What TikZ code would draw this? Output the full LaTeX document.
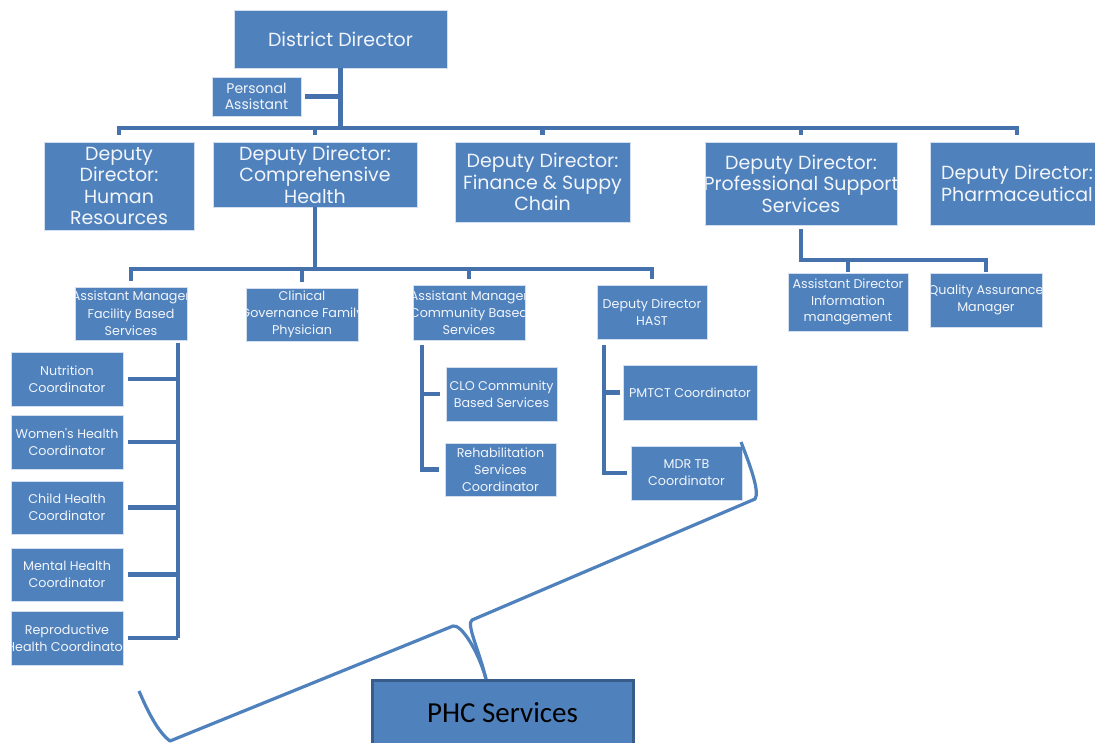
\documentclass[tikz,border=0pt]{standalone}
\usepackage{fontspec}
\newfontfamily\gothic{Poppins}
\newfontfamily\calib{Carlito}
\usetikzlibrary{calc}
\definecolor{boxblue}{HTML}{4F81BD}
\definecolor{linkblue}{HTML}{4572AC}
\definecolor{edgeblue}{HTML}{385D8A}
\definecolor{txt}{HTML}{F2F5FA}
\newcommand{\fbig}{\gothic\fontsize{19}{22}\selectfont}
\newcommand{\fmid}{\gothic\fontsize{19}{21.5}\selectfont}
\newcommand{\fsmall}{\gothic\fontsize{12.7}{16.8}\selectfont}
\newcommand{\fpa}{\gothic\fontsize{14}{16}\selectfont}
\tikzset{
  box/.style={fill=boxblue, draw=white!75!boxblue, line width=0.6pt, inner sep=0pt},
  tbig/.style={path picture={\node[font=\fbig, text=txt, align=center, inner sep=0pt] at (path picture bounding box.center) {#1};}},
  tmid/.style={path picture={\node[font=\fmid, text=txt, align=center, inner sep=0pt] at (path picture bounding box.center) {#1};}},
  tsmall/.style={path picture={\node[font=\fsmall, text=txt, align=center, inner sep=0pt] at (path picture bounding box.center) {#1};}},
  tpa/.style={path picture={\node[font=\fpa, text=txt, align=center, inner sep=0pt] at (path picture bounding box.center) {#1};}},
  conn/.style={draw=linkblue, line width=4.3pt},
  bracel/.style={draw=boxblue, line width=3.2pt, line join=round},
  phcbox/.style={fill=boxblue, draw=edgeblue, line width=3pt, text=black, font=\calib\fontsize{29}{32}\selectfont, inner sep=0pt}
}
\begin{document}
\begin{tikzpicture}[x=1pt,y=-1pt]
\useasboundingbox (0,0) rectangle (1095,742);
% level 1
\node[box, minimum width=213pt, minimum height=58pt, tbig={District Director}] (dd) at (340.5,39) {};
\node[box, minimum width=89pt, minimum height=39pt, tpa={Personal\\Assistant}] (pa) at (256.5,96.5) {};
% level 2
\node[box, minimum width=150pt, minimum height=88pt, tmid={Deputy\\Director:\\Human\\Resources}] (hr) at (119,186) {};
\node[box, minimum width=204pt, minimum height=65pt, tmid={Deputy Director:\\Comprehensive\\Health}] (ch) at (315,174.5) {};
\node[box, minimum width=175pt, minimum height=80pt, tmid={Deputy Director:\\Finance \& Suppy\\Chain}] (fi) at (542.5,182) {};
\node[box, minimum width=192pt, minimum height=83pt, tmid={Deputy Director:\\Professional Support\\Services}] (ps) at (801,183.5) {};
\node[box, minimum width=174pt, minimum height=83pt, tmid={Deputy Director:\\Pharmaceutical}] (ph) at (1017,183.5) {};
% level 3
\node[box, minimum width=112pt, minimum height=53pt, tsmall={Assistant Manager\\[1pt]Facility Based\\Services}] (fb) at (131,313.5) {};
\node[box, minimum width=112pt, minimum height=53pt, tsmall={Clinical\\Governance Family\\Physician}] (cg) at (302,314.5) {};
\node[box, minimum width=112pt, minimum height=55pt, tsmall={Assistant Manager\\Community Based\\Services}] (cb) at (469,312.5) {};
\node[box, minimum width=110pt, minimum height=54pt, tsmall={Deputy Director\\HAST}] (ha) at (652,312) {};
\node[box, minimum width=120pt, minimum height=58pt, tsmall={Assistant Director\\Information\\management}] (ai) at (848,302) {};
\node[box, minimum width=112pt, minimum height=54pt, tsmall={Quality Assurance\\Manager}] (qa) at (986,300) {};
% coordinators
\node[box, minimum width=112pt, minimum height=54pt, tsmall={Nutrition\\Coordinator}] (nut) at (67,379) {};
\node[box, minimum width=112pt, minimum height=54pt, tsmall={Women's Health\\Coordinator}] (wom) at (67,442) {};
\node[box, minimum width=112pt, minimum height=53pt, tsmall={Child Health\\Coordinator}] (chi) at (67,507.5) {};
\node[box, minimum width=112pt, minimum height=53pt, tsmall={Mental Health\\Coordinator}] (men) at (67,574.5) {};
\node[box, minimum width=112pt, minimum height=54pt, tsmall={Reproductive\\Health Coordinator}] (rep) at (67,638) {};
\node[box, minimum width=111pt, minimum height=54pt, tsmall={CLO Community\\Based Services}] (clo) at (501.5,394) {};
\node[box, minimum width=111pt, minimum height=53pt, tsmall={Rehabilitation\\Services\\Coordinator}] (reh) at (500.5,469.5) {};
\node[box, minimum width=134pt, minimum height=55pt, tsmall={PMTCT Coordinator}] (pm) at (690,392.5) {};
\node[box, minimum width=111pt, minimum height=54pt, tsmall={MDR TB\\Coordinator}] (mdr) at (686.5,473) {};
% PHC
\node[phcbox, minimum width=261pt, minimum height=66pt] (phc) at (502.5,713) {PHC Services};
% bus coordinates
\coordinate (bus) at (340.5,128);
\coordinate (bus2) at (315,269);
\coordinate (pbus) at (801,260);
\coordinate (fx) at (178,0);
\coordinate (cx) at (422,0);
\coordinate (hx) at (604,0);
% level 1 connectors
\draw[conn] (dd.south) -- (bus);
\draw[conn, shorten <=4pt] (pa.east) -- (dd.south |- pa.east);
\draw[conn, line cap=rect] (hr.north |- bus) -- (ph.north |- bus);
\foreach \n in {hr,ch,fi,ps,ph} \draw[conn, shorten >=7pt] (\n.north |- bus) -- (\n.north);
% level 2 connectors
\draw[conn] (ch.south) -- (bus2);
\draw[conn, line cap=rect] (fb.north |- bus2) -- (ha.north |- bus2);
\foreach \n in {fb,cg,cb,ha} \draw[conn, shorten >=6pt] (\n.north |- bus2) -- (\n.north);
\draw[conn, shorten <=4pt] (ps.south) -- (pbus);
\draw[conn, line cap=rect] (pbus) -- (qa.north |- pbus);
\foreach \n in {ai,qa} \draw[conn, shorten >=1pt] (\n.north |- pbus) -- (\n.north);
% facility branch
\draw[conn] ($(fx |- fb.south)+(0,3)$) -- (fx |- rep.east);
\foreach \n in {nut,wom,chi,men,rep} \draw[conn, shorten <=5pt] (\n.east) -- (fx |- \n.east);
% community branch
\draw[conn, shorten >=6pt] ($(cx |- cb.south)+(0,5)$) |- (reh.west);
\draw[conn, shorten >=6pt] (cx |- clo.west) -- (clo.west);
% HAST branch
\draw[conn, shorten >=4pt] ($(hx |- ha.south)+(0,6)$) |- (mdr.west);
\draw[conn, shorten >=3pt] (hx |- pm.west) -- (pm.west);
% brace
\draw[bracel] (741,442) .. controls (750,465) and (760,492) .. (755,499) -- (472,620) .. controls (466,624) and (479,650) .. (486,679);
\draw[bracel] (139,691) .. controls (148,712) and (158,732) .. (170,741) -- (453,626) .. controls (461,624) and (478,650) .. (486,679);
\end{tikzpicture}
\end{document}
